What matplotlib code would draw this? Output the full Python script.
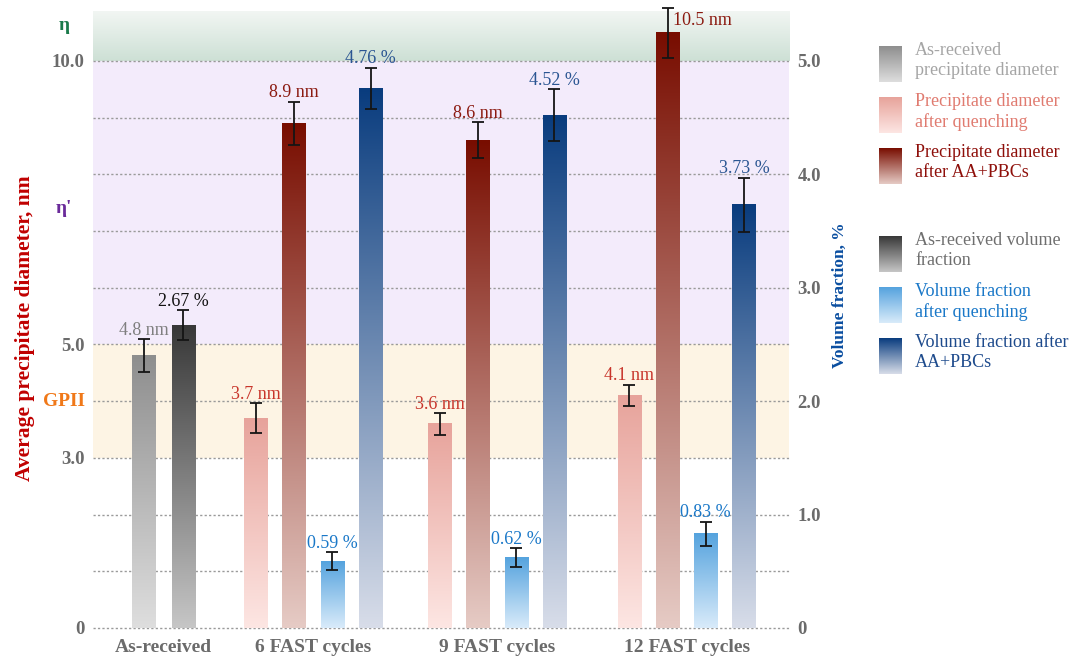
import numpy as np
import matplotlib
matplotlib.use("Agg")
import matplotlib.pyplot as plt
from matplotlib.colors import LinearSegmentedColormap
from matplotlib.transforms import blended_transform_factory

plt.rcParams["font.family"] = ["Liberation Serif", "DejaVu Serif"]

# ---------------- data ----------------
groups = ["As-received", "6 FAST cycles", "9 FAST cycles", "12 FAST cycles"]

# average precipitate diameter, nm
diam_as_received = [4.8]
diam_as_received_err = [0.29]
diam_quenched = [3.7, 3.6, 4.1]
diam_quenched_err = [0.26, 0.19, 0.19]
diam_aged = [8.9, 8.6, 10.5]
diam_aged_err = [0.38, 0.32, 0.44]

# volume fraction, %
vf_as_received = [2.67]
vf_as_received_err = [0.13]
vf_quenched = [0.59, 0.62, 0.83]
vf_quenched_err = [0.08, 0.085, 0.105]
vf_aged = [4.76, 4.52, 3.73]
vf_aged_err = [0.18, 0.23, 0.24]

left_ticks = [0, 3, 5, 10]
left_ticklabels = ["0", "3.0", "5.0", "10.0"]
right_ticks = [0, 1, 2, 3, 4, 5]
right_ticklabels = ["0", "1.0", "2.0", "3.0", "4.0", "5.0"]

# precipitate regimes on the diameter axis
phase_names = ["GPII", "η'", "η"]
phase_lower = [3, 5, 10]
phase_upper = [5, 10, None]

# ---------------- styling ----------------
W, H = 1073, 663
DIAM_TOP = 10.88
VF_TOP = DIAM_TOP / 2
X_RIGHT = 18.22
group_centers = [1.846, 5.765, 10.58, 15.54]
bar_w = 0.615

def ramp(name, low, high):
    return LinearSegmentedColormap.from_list(name, [low, high])

cm_ar_d = ramp("ar_d", "#dedede", "#8e8e8e")
cm_ar_v = ramp("ar_v", "#c6c6c6", "#383838")
cm_q_d = ramp("q_d", "#fde6e3", "#e7a39b")
cm_a_d = ramp("a_d", "#e6cbc5", "#780d00")
cm_q_v = ramp("q_v", "#d9ebfa", "#55a3de")
cm_a_v = ramp("a_v", "#d8dde9", "#093c7e")

tick_color = "#6b6b6b"
grad = np.linspace(0, 1, 256).reshape(-1, 1)

fig = plt.figure(figsize=(W / 100, H / 100), dpi=100)
ax = fig.add_axes([93 / W, 35 / H, 696 / W, 617 / H])
ax2 = ax.twinx()

# background regimes
band_colors = {"GPII": "#fdf4e4", "η'": "#f3ebfb"}
for name, lo, hi in zip(phase_names, phase_lower, phase_upper):
    if hi is None:
        ax.imshow(grad, cmap=ramp("eta", "#cde0d5", "#f2f6f3"), origin="lower",
                  aspect="auto", extent=[0, X_RIGHT, lo, DIAM_TOP], zorder=0,
                  interpolation="bilinear")
    else:
        ax.axhspan(lo, hi, color=band_colors[name], lw=0, zorder=0)

for v in range(0, 11):
    ax.axhline(v, color="#9a9a9a", lw=1.0, ls=(0, (1.6, 1.6)), zorder=1,
               clip_on=False)


def gradient_bars(axis, xs, heights, errs, cmap, color, unit, offsets=None):
    bars = axis.bar(xs, heights, width=bar_w, color="none", lw=0, zorder=3)
    for b in bars:
        x0, w, h = b.get_x(), b.get_width(), b.get_height()
        axis.imshow(grad, cmap=cmap, origin="lower", aspect="auto",
                    extent=[x0, x0 + w, 0, h], zorder=3, interpolation="bilinear")
    eb = axis.errorbar(xs, heights, yerr=errs, fmt="none", ecolor="#151515",
                       elinewidth=1.3, capsize=4, capthick=1.3, zorder=4)
    for part in eb.lines:
        if part is None:
            continue
        for artist in (part if isinstance(part, tuple) else (part,)):
            artist.set_clip_on(False)
    for i, (x, h, e) in enumerate(zip(xs, heights, errs)):
        txt = f"{h:g} {unit}" if unit == "nm" else f"{h:.2f} {unit}"
        if offsets and i in offsets:
            dx, dy, ha = offsets[i]
            axis.annotate(txt, (x, h), xytext=(dx, dy), textcoords="offset pixels",
                          ha=ha, va="center", color=color, fontsize=13,
                          annotation_clip=False, zorder=5)
        else:
            axis.annotate(txt, (x, h + e), xytext=(0, 9), textcoords="offset pixels",
                          ha="center", va="center", color=color, fontsize=13,
                          annotation_clip=False, zorder=5)


fast = group_centers[1:]
gradient_bars(ax, [group_centers[0] - 0.52], diam_as_received, diam_as_received_err,
              cm_ar_d, "#7f7f7f", "nm")
gradient_bars(ax2, [group_centers[0] + 0.52], vf_as_received, vf_as_received_err,
              cm_ar_v, "#111111", "%")
gradient_bars(ax, [c - 1.5 for c in fast], diam_quenched, diam_quenched_err,
              cm_q_d, "#c8352b", "nm")
gradient_bars(ax, [c - 0.5 for c in fast], diam_aged, diam_aged_err,
              cm_a_d, "#8b1a10", "nm", offsets={2: (5, 12, "left")})
gradient_bars(ax2, [c + 0.5 for c in fast], vf_quenched, vf_quenched_err,
              cm_q_v, "#1a78c8", "%")
gradient_bars(ax2, [c + 1.5 for c in fast], vf_aged, vf_aged_err,
              cm_a_v, "#2a5592", "%")

# axes
ax.set_xlim(0, X_RIGHT)
ax.set_ylim(0, DIAM_TOP)
ax2.set_ylim(0, VF_TOP)
for a in (ax, ax2):
    for s in a.spines.values():
        s.set_visible(False)
    a.tick_params(length=0)

ax.set_xticks(group_centers, groups, fontsize=14, fontweight="bold", color=tick_color)
ax.tick_params(axis="x", pad=8)
ax.set_yticks(left_ticks, left_ticklabels, fontsize=13.5, fontweight="bold", color=tick_color)
ax.tick_params(axis="y", pad=6)
ax2.set_yticks(right_ticks, right_ticklabels, fontsize=13.5, fontweight="bold", color=tick_color)
ax2.tick_params(axis="y", pad=6)

# regime names beside the diameter axis
phase_text_y = [4.0, 7.4, 10.62]
phase_colors = ["#f07818", "#6a2a9a", "#1a7a4a"]
trans = blended_transform_factory(ax.transAxes, ax.transData)
for name, y, c in zip(phase_names, phase_text_y, phase_colors):
    ax.text(-0.042, y, name, transform=trans, ha="center", va="center",
            fontsize=14, fontweight="bold", color=c)

ax.text(-0.098, 0.486, "Average precipitate diameter, nm", transform=ax.transAxes,
        rotation=90, ha="center", va="center", fontsize=15.5, fontweight="bold",
        color="#c00000")
ax.text(1.073, 0.54, "Volume fraction, %", transform=ax.transAxes,
        rotation=90, ha="center", va="center", fontsize=12.5, fontweight="bold",
        color="#0a4ea0")

# legend
legend_labels = [
    "As-received\nprecipitate diameter",
    "Precipitate diameter\nafter quenching",
    "Precipitate diameter\nafter AA+PBCs",
    "As-received volume\nfraction",
    "Volume fraction\nafter quenching",
    "Volume fraction after\nAA+PBCs",
]
legend_cmaps = [cm_ar_d, cm_q_d, cm_a_d, cm_ar_v, cm_q_v, cm_a_v]
legend_colors = ["#a5a5a5", "#e07b70", "#8e0f0a", "#6e6e6e", "#1a78c8", "#1d4a8c"]

lax = fig.add_axes([0, 0, 1, 1], zorder=-1)
lax.set_xlim(0, W)
lax.set_ylim(H, 0)
lax.axis("off")
for i, (lab, cm, col) in enumerate(zip(legend_labels, legend_cmaps, legend_colors)):
    top = 46 + 51 * i + (37 if i >= 3 else 0)
    lax.imshow(grad, cmap=cm, origin="lower", aspect="auto",
               extent=[879, 902, top + 36, top], interpolation="bilinear")
    lax.text(915, top - 4, lab, ha="left", va="top", fontsize=13, color=col,
             linespacing=1.22)
lax.set_xlim(0, W)
lax.set_ylim(H, 0)

fig.savefig("out.png", dpi=100)
